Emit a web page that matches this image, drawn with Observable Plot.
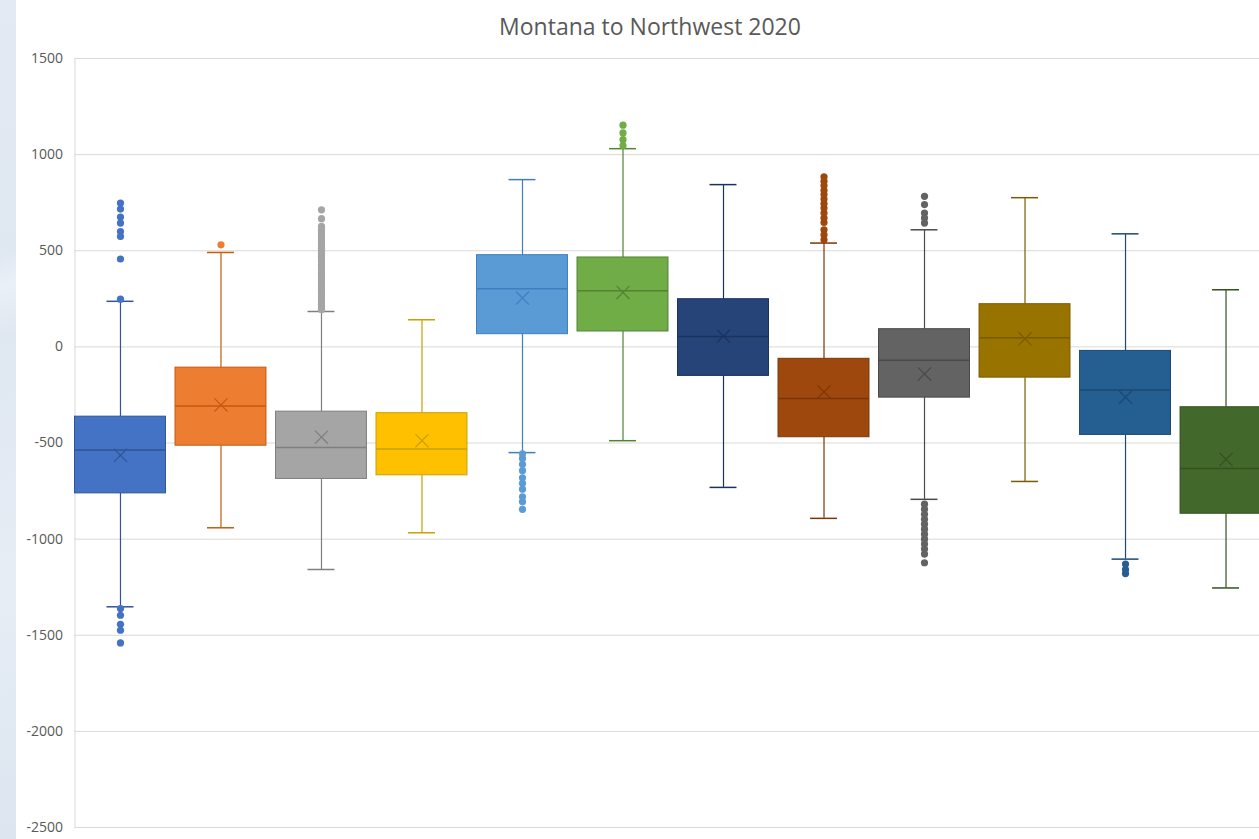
<!DOCTYPE html>
<html>
<head>
<meta charset="utf-8">
<script src="https://cdn.jsdelivr.net/npm/d3@7"></script>
<script src="https://cdn.jsdelivr.net/npm/@observablehq/plot@0.6"></script>
<style>
  html, body { margin: 0; padding: 0; background: #fff; overflow: hidden; width: 1259px; height: 839px; }
  #wrap { position: relative; width: 1259px; height: 839px; overflow: hidden; }
  #strip { position: absolute; left: 0; top: 0; width: 16px; height: 839px; z-index: 2;
    background: linear-gradient(160deg, #e3eaf4 0%, #dfe7f1 30%, #eaf0f7 34%, #dfe7f1 40%, #e6edf5 70%, #dce5f0 100%); }
  #title { position: absolute; top: 10px; left: 0; width: 1300px; text-align: center; z-index: 2;
    font-family: "Open Sans", sans-serif; font-size: 23px; color: #595959; }
  #chart { position: absolute; left: 0; top: 0; width: 1271px; }
  #chart svg { max-width: none !important; }
</style>
</head>
<body>
<div id="wrap">
  <div id="strip"></div>
  <div id="title">Montana to Northwest 2020</div>
  <div id="chart"></div>
</div>
<script>
const series = ["S1","S2","S3","S4","S5","S6","S7","S8","S9","S10","S11","S12"];
const fillColors = ["#4472c4","#ed7d31","#a5a5a5","#ffc000","#5b9bd5","#70ad47","#264478","#9e480e","#636363","#997300","#255e91","#43682b"];
const lineColors = ["#2f5597","#c55a11","#7f7f7f","#c9a000","#3f7fc0","#548235","#1a3260","#7a3608","#4a4a4a","#7a5c00","#1b4a73","#33521f"];
const whiskerLow  = [-1352, -941, -1158, -967, -550, -488, -731, -892, -793, -700, -1104, -1254];
const q1          = [-762, -514, -687, -668, 66, 80, -151, -470, -264, -160, -458, -868];
const median      = [-536, -307, -524, -531, 302, 292, 54, -269, -69, 47, -224, -632];
const mean        = [-564, -302, -470, -488, 254, 283, 56, -234, -141, 42, -262, -585];
const q3          = [-363, -108, -337, -345, 477, 465, 248, -62, 92, 222, -21, -314];
const whiskerHigh = [237, 491, 184, 141, 870, 1031, 844, 540, 609, 776, 588, 297];
const outliers = [
  [748, 717, 675, 644, 600, 574, 457, 248, -1361, -1396, -1443, -1474, -1540],
  [531],
  [713, 667, 627, 612, 598, 583, 570, 556, 541, 528, 513, 500, 486, 471, 457, 444, 430, 415, 402, 388, 373, 360, 345, 331, 318, 303, 290, 276, 261, 248, 234, 220, 205, 193],
  [],
  [-556, -580, -611, -644, -681, -710, -740, -780, -806, -845],
  [1047, 1078, 1113, 1153],
  [],
  [557, 583, 609, 647, 670, 696, 722, 745, 769, 792, 814, 839, 861, 884],
  [644, 670, 696, 740, 783, -818, -845, -871, -897, -922, -948, -974, -1000, -1026, -1052, -1078, -1123],
  [],
  [-1130, -1158, -1179],
  []
];
const yTicks = [-2500, -2000, -1500, -1000, -500, 0, 500, 1000, 1500];

const table = series.map((s, i) => ({
  series: s, fill: fillColors[i], line: lineColors[i],
  lo: whiskerLow[i], q1: q1[i], median: median[i], mean: mean[i], q3: q3[i], hi: whiskerHigh[i]
}));
const outlierTable = series.flatMap((s, i) => outliers[i].map(v => ({series: s, value: v, fill: fillColors[i]})));

const chart = Plot.plot({
  width: 1271,
  height: 839,
  marginLeft: 74.5,
  marginRight: 0,
  marginTop: 58,
  marginBottom: 12,
  style: {fontFamily: "'Open Sans', sans-serif", fontSize: "14px", color: "#595959", background: "transparent", maxWidth: "none"},
  x: {type: "band", domain: series, paddingInner: 0.095, paddingOuter: 0, round: false, axis: null},
  y: {domain: [-2500, 1500], ticks: yTicks},
  color: {type: "identity"},
  marks: [
    Plot.gridY(yTicks, {stroke: "#d9d9d9", strokeOpacity: 1}),
    Plot.frame({stroke: "#d9d9d9"}),
    Plot.axisY(yTicks, {tickSize: 0, tickPadding: 12, label: null, fill: "#595959", fontSize: 14, tickFormat: d => String(d)}),
    Plot.ruleX(table, {x: "series", y1: "lo", y2: "q1", stroke: "line", strokeWidth: 1.2}),
    Plot.ruleX(table, {x: "series", y1: "q3", y2: "hi", stroke: "line", strokeWidth: 1.2}),
    Plot.tickY(table, {x: "series", y: "lo", stroke: "line", strokeWidth: 1.5, insetLeft: 32, insetRight: 32}),
    Plot.tickY(table, {x: "series", y: "hi", stroke: "line", strokeWidth: 1.5, insetLeft: 32, insetRight: 32}),
    Plot.barY(table, {x: "series", y1: "q1", y2: "q3", fill: "fill", stroke: "line", strokeWidth: 1}),
    Plot.tickY(table, {x: "series", y: "median", stroke: "line", strokeWidth: 1.5}),
    Plot.dot(table, {x: "series", y: "mean", symbol: "times", r: 6, stroke: "line", strokeWidth: 1.2}),
    Plot.dot(outlierTable, {x: "series", y: "value", r: 3.6, fill: "fill", stroke: "none"})
  ]
});
document.getElementById("chart").appendChild(chart);
</script>
</body>
</html>
